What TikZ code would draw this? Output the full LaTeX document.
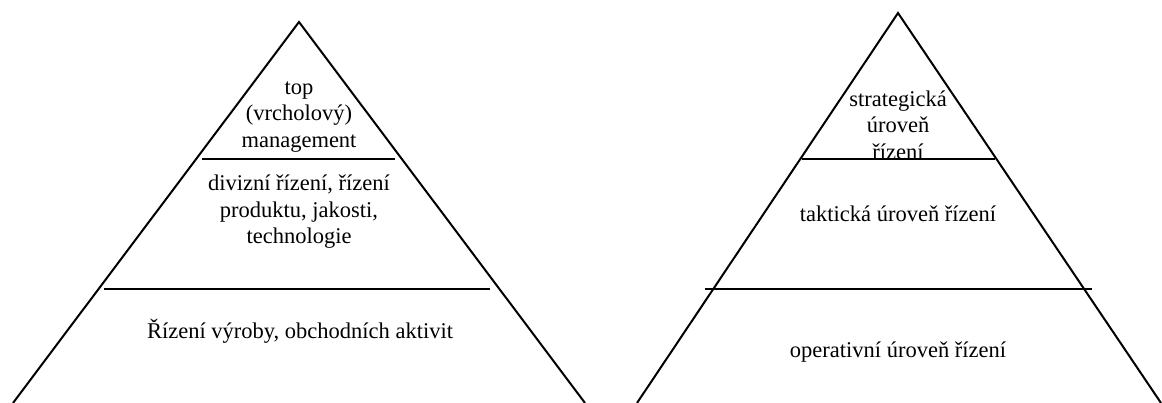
\documentclass[tikz,border=0pt]{standalone}
\usepackage{fontspec}
\setmainfont{Liberation Serif}
\begin{document}
\begin{tikzpicture}[x=1pt,y=-1pt,
  edge/.style={line width=2pt,line cap=butt},
  label/.style={inner sep=0pt,align=center,font=\fontsize{22.5}{26.5}\selectfont}]
\useasboundingbox (0,0) rectangle (1162,403);
% left pyramid
\coordinate (LA) at (299,22);
\coordinate (LL) at (13,403);
\coordinate (LR) at (585,403);
\coordinate (L1a) at (202,159);
\coordinate (L1b) at (395,159);
\coordinate (L2a) at (104,289);
\coordinate (L2b) at (490,289);
\draw[edge] (LL) -- (LA) -- (LR);
\draw[edge] (L1a) -- (L1b);
\draw[edge] (L2a) -- (L2b);
\node[label] (ltop) at (299,117) {top\\(vrcholový)\\management};
\node[label] (lmid) at (299,212) {divizní řízení, řízení\\produktu, jakosti,\\technologie};
\node[label] (lbot) at (300,331) {Řízení výroby, obchodních aktivit};
% right pyramid
\coordinate (RA) at (898,13);
\coordinate (RL) at (637,403);
\coordinate (RR) at (1161,403);
\coordinate (R1a) at (802,159);
\coordinate (R1b) at (995,159);
\coordinate (R2a) at (705,289);
\coordinate (R2b) at (1092,289);
\draw[edge] (RL) -- (RA) -- (RR);
\draw[edge] (R1a) -- (R1b);
\draw[edge] (R2a) -- (R2b);
\node[label] (rtop) at (898,125) {strategická\\úroveň\\řízení};
\node[label] (rmid) at (898,214) {taktická úroveň řízení};
\node[label] (rbot) at (898,352) {operativní úroveň řízení};
\end{tikzpicture}
\end{document}
